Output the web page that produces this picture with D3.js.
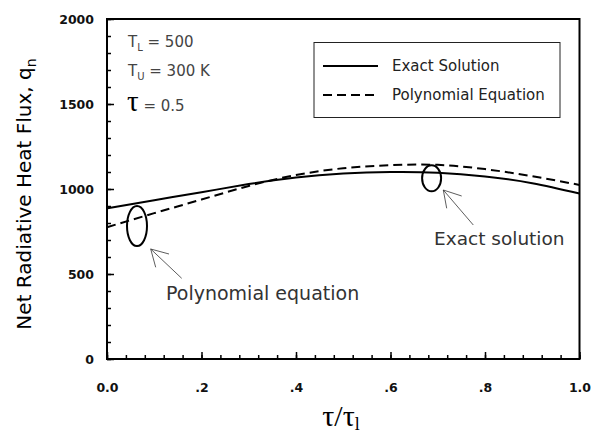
<!DOCTYPE html>
<html>
<head>
<meta charset="utf-8">
<script src="https://cdn.jsdelivr.net/npm/d3@7"></script>
<style>
  body { margin: 0; background: #fff; }
  svg { display: block; }
  .tick text { font-family: "DejaVu Sans", sans-serif; font-size: 12.5px; font-weight: bold; fill: #111; }
</style>
</head>
<body>
<svg id="chart" width="599" height="446"></svg>
<script>
/* ── DATA ─────────────────────────────────────────────────────────── */
const tauRatio   = [0, 0.1, 0.2, 0.3, 0.4, 0.5, 0.6, 0.7, 0.8, 0.9, 1.0];
const exactFlux  = [886, 934, 981, 1029, 1068, 1091, 1100, 1096, 1074, 1034, 973];
const polyFlux   = [775, 858, 938, 1018, 1082, 1122, 1140, 1142, 1117, 1075, 1024];

const xMajor     = [0, 0.2, 0.4, 0.6, 0.8, 1.0];
const xLabels    = ['0.0', '.2', '.4', '.6', '.8', '1.0'];
const yMajor     = [0, 500, 1000, 1500, 2000];

const seriesNames = ['Exact Solution', 'Polynomial Equation'];

// annotation ellipses [tau, flux]
const ellipses   = [[0.0635, 782], [0.687, 1063]];

/* ── LAYOUT ───────────────────────────────────────────────────────── */
const X0 = 107, X1 = 579.5, Y0 = 359, Y1 = 19;

const svg = d3.select('#chart');
const x = d3.scaleLinear().domain([0, 1]).range([X0, X1]);
const y = d3.scaleLinear().domain([0, 2000]).range([Y0, Y1]);

/* ── AXES ─────────────────────────────────────────────────────────── */
const xMinor = d3.range(0, 1.0001, 0.04);
const yMinor = d3.range(0, 2001, 100);

svg.append('g')
  .attr('transform', `translate(0,${Y0})`)
  .call(d3.axisBottom(x).tickValues(xMinor).tickSizeInner(-4).tickSizeOuter(0).tickFormat(''))
  .call(g => g.select('.domain').remove())
  .call(g => g.selectAll('line').attr('stroke-width', 1.5));

svg.append('g')
  .attr('transform', `translate(0,${Y0})`)
  .call(d3.axisBottom(x).tickValues(xMajor).tickSizeInner(-7).tickSizeOuter(0)
    .tickPadding(24).tickFormat((d, i) => xLabels[i]))
  .call(g => g.select('.domain').remove())
  .call(g => g.selectAll('line').attr('stroke-width', 1.5));

svg.append('g')
  .attr('transform', `translate(${X0},0)`)
  .call(d3.axisLeft(y).tickValues(yMinor).tickSizeInner(-4).tickSizeOuter(0).tickFormat(''))
  .call(g => g.select('.domain').remove())
  .call(g => g.selectAll('line').attr('stroke-width', 1.5));

svg.append('g')
  .attr('transform', `translate(${X0},0)`)
  .call(d3.axisLeft(y).tickValues(yMajor).tickSizeInner(-7).tickSizeOuter(0)
    .tickPadding(13).tickFormat(d3.format('d')))
  .call(g => g.select('.domain').remove())
  .call(g => g.selectAll('line').attr('stroke-width', 1.5));

// frame
svg.append('rect')
  .attr('x', X0).attr('y', Y1)
  .attr('width', X1 - X0).attr('height', Y0 - Y1)
  .attr('fill', 'none').attr('stroke', '#000').attr('stroke-width', 2);

/* ── LINES ────────────────────────────────────────────────────────── */
const line = d3.line()
  .x(d => x(d[0])).y(d => y(d[1]))
  .curve(d3.curveNatural);

svg.append('path')
  .datum(d3.zip(tauRatio, exactFlux))
  .attr('d', line)
  .attr('fill', 'none').attr('stroke', '#000').attr('stroke-width', 2);

svg.append('path')
  .datum(d3.zip(tauRatio, polyFlux))
  .attr('d', line)
  .attr('fill', 'none').attr('stroke', '#000').attr('stroke-width', 2)
  .attr('stroke-dasharray', '9,5');

/* ── ELLIPSES + ARROWS ────────────────────────────────────────────── */
svg.append('ellipse')
  .attr('cx', x(ellipses[0][0])).attr('cy', y(ellipses[0][1]))
  .attr('rx', 10).attr('ry', 20)
  .attr('fill', 'none').attr('stroke', '#000').attr('stroke-width', 2);

svg.append('ellipse')
  .attr('cx', x(ellipses[1][0])).attr('cy', y(ellipses[1][1]))
  .attr('rx', 9.5).attr('ry', 13)
  .attr('fill', 'none').attr('stroke', '#000').attr('stroke-width', 2);

function arrow(tail, tip, h1, h2) {
  const g = svg.append('g').attr('stroke', '#333').attr('stroke-width', 0.8).attr('fill', 'none');
  g.append('line').attr('x1', tail[0]).attr('y1', tail[1]).attr('x2', tip[0]).attr('y2', tip[1]);
  g.append('polyline').attr('points', [h1, tip, h2].map(p => p.join(',')).join(' '));
}
arrow([181.7, 278.3], [150.7, 249], [169, 254], [155.7, 267.3]);
arrow([473.3, 225], [443.3, 190], [461.7, 196], [446.7, 208.3]);

const annoFont = '"DejaVu Sans", sans-serif';
svg.append('text')
  .attr('x', 166).attr('y', 300)
  .style('font-family', annoFont).style('font-size', '19px').attr('fill', '#333')
  .text('Polynomial equation');

svg.append('text')
  .attr('x', 434).attr('y', 245)
  .style('font-family', annoFont).style('font-size', '18.5px').attr('fill', '#333')
  .text('Exact solution');

/* ── TOP-LEFT PARAMETERS ──────────────────────────────────────────── */
const t1 = svg.append('text').attr('x', 128).attr('y', 47)
  .style('font-family', annoFont).style('font-size', '15px').attr('fill', '#444');
t1.append('tspan').text('T');
t1.append('tspan').attr('dy', 4).style('font-size', '10px').text('L');
t1.append('tspan').attr('dy', -4).text(' = 500');

const t2 = svg.append('text').attr('x', 128).attr('y', 76)
  .style('font-family', annoFont).style('font-size', '15px').attr('fill', '#444');
t2.append('tspan').text('T');
t2.append('tspan').attr('dy', 4).style('font-size', '10px').text('U');
t2.append('tspan').attr('dy', -4).text(' = 300 K');

const t3 = svg.append('text').attr('x', 127).attr('y', 111)
  .style('font-family', annoFont).style('font-size', '15px').attr('fill', '#444');
t3.append('tspan').style('font-family', '"Liberation Serif", serif').style('font-size', '29px')
  .attr('fill', '#000').text('τ');
t3.append('tspan').text(' = 0.5');

/* ── LEGEND ───────────────────────────────────────────────────────── */
svg.append('rect')
  .attr('x', 314).attr('y', 42.5).attr('width', 246).attr('height', 75)
  .attr('fill', '#fff').attr('stroke', '#222').attr('stroke-width', 1);

const legend = svg.append('g');
seriesNames.forEach((name, i) => {
  const ly = 66 + i * 29;
  legend.append('line')
    .attr('x1', 323).attr('x2', 378).attr('y1', ly).attr('y2', ly)
    .attr('stroke', '#000').attr('stroke-width', 2)
    .attr('stroke-dasharray', i === 1 ? '9,5' : null);
  legend.append('text')
    .attr('x', 392).attr('y', ly + 5)
    .style('font-family', annoFont).style('font-size', '15px').attr('fill', '#222')
    .text(name);
});

/* ── AXIS TITLES ──────────────────────────────────────────────────── */
const yt = svg.append('text')
  .attr('transform', 'translate(31,194) rotate(-90)')
  .attr('text-anchor', 'middle')
  .style('font-family', annoFont).style('font-size', '20px').attr('fill', '#000');
yt.append('tspan').text('Net Radiative Heat Flux, q');
yt.append('tspan').attr('dy', 5).style('font-size', '14px').text('n');

const xt = svg.append('text')
  .attr('x', 341).attr('y', 426)
  .attr('text-anchor', 'middle')
  .style('font-family', '"Liberation Serif", serif').style('font-size', '30px').attr('fill', '#000');
xt.append('tspan').text('τ/τ');
xt.append('tspan').attr('dy', 4).style('font-size', '18px').text('l');
</script>
</body>
</html>
